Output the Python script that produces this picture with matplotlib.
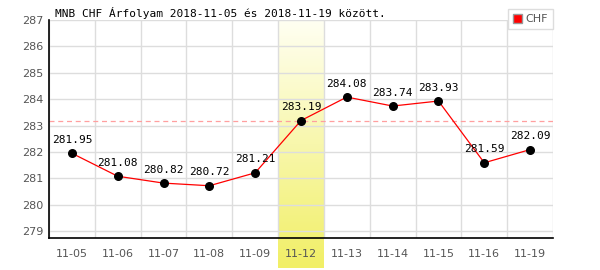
import numpy as np
import matplotlib
matplotlib.use('Agg')
import matplotlib.pyplot as plt
import matplotlib.patches as mpatches
from matplotlib.colors import LinearSegmentedColormap

dates = ['11-05', '11-06', '11-07', '11-08', '11-09', '11-12',
         '11-13', '11-14', '11-15', '11-16', '11-19']
rates = [281.95, 281.08, 280.82, 280.72, 281.21, 283.19,
         284.08, 283.74, 283.93, 281.59, 282.09]
highlight = '11-12'
yticks = [279, 280, 281, 282, 283, 284, 285, 286, 287]
title = 'MNB CHF Árfolyam 2018-11-05 és 2018-11-19 között.'

mono = 'DejaVu Sans Mono'
ymin, ymax = 278.74, 287.0

fig = plt.figure(figsize=(6, 2.7), dpi=100)
ax = fig.add_axes([49 / 600, 32 / 270, 504 / 600, 218 / 270])

x = np.arange(len(dates))
hi = dates.index(highlight)

# yellow band for the highlighted day, runs down below the axis
cmap = LinearSegmentedColormap.from_list('band', ['#fffff2', '#f1ef66'])
grad = np.linspace(0, 1, 256).reshape(-1, 1)
per_px = (ymax - ymin) / 218
ax.imshow(grad, cmap=cmap, aspect='auto', origin='upper',
          extent=(hi - 0.5, hi + 0.5, ymin - 30 * per_px, ymax),
          clip_on=False, zorder=0)

ax.set_xlim(-0.5, len(dates) - 0.5)
ax.set_ylim(ymin, ymax)

for xv in np.arange(len(dates) + 1) - 0.5:
    ax.axvline(xv, color='#dddddd', lw=1, zorder=1)
for yv in yticks:
    ax.axhline(yv, color='#dddddd', lw=1, zorder=1)

ax.axhline(rates[hi], color='#ff9f9f', lw=0.9, ls=(0, (4, 3)), zorder=2)

ax.plot(x, rates, color='red', lw=0.9, zorder=3)
ax.scatter(x, rates, s=30, color='black', zorder=4)
for xi, r in zip(x, rates):
    ax.annotate('%.2f' % r, (xi, r), xytext=(0, 6), textcoords='offset points',
                ha='center', va='bottom', fontsize=8, family=mono, color='black',
                zorder=5)

ax.set_xticks(x)
ax.set_xticklabels(dates)
ax.set_yticks(yticks)
ax.tick_params(axis='both', length=0, labelsize=8, labelcolor='#555555')
ax.tick_params(axis='x', pad=8)
ax.tick_params(axis='y', pad=4)

for side in ['top', 'right']:
    ax.spines[side].set_visible(False)
ax.spines['left'].set_color('black')
ax.spines['bottom'].set_color('black')
ax.spines['left'].set_linewidth(1.2)
ax.spines['bottom'].set_linewidth(1.2)
ax.spines['left'].set_zorder(6)
ax.spines['bottom'].set_zorder(6)

fig.text(55 / 600, 1 - 13 / 270, title, fontsize=8, family=mono,
         color='black', va='center', ha='left')

patch = mpatches.Patch(facecolor='red', edgecolor='#999999', label='CHF')
leg = fig.legend(handles=[patch], loc='upper right',
                 bbox_to_anchor=(553 / 600, 1 - 9 / 270),
                 fontsize=8, handlelength=0.8, handleheight=0.8,
                 handletextpad=0.3, borderpad=0.45, borderaxespad=0,
                 fancybox=False, framealpha=1, labelcolor='#555555')
leg.get_frame().set_edgecolor('#dddddd')
leg.get_frame().set_linewidth(1)

fig.savefig('out.png', dpi=100)
